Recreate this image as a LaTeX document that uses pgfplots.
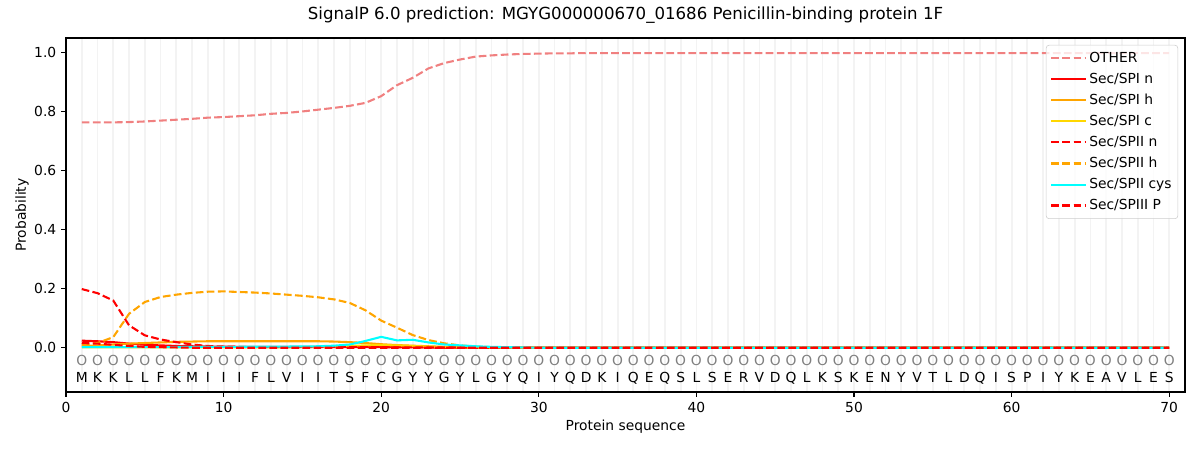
\documentclass[border=0pt]{standalone}
\usepackage{pgfplots}
\pgfplotsset{compat=1.18}
\usepackage{pgfplotstable}
\usepackage{fontspec}
\setmainfont{DejaVu Sans}
\definecolor{lightcoral}{HTML}{F08080}
\definecolor{mplorange}{HTML}{FFA500}
\definecolor{mplgold}{HTML}{FFD700}
\definecolor{mplcyan}{HTML}{00FFFF}
\definecolor{mplred}{HTML}{FF0000}
\definecolor{gridgray}{HTML}{F3F3F3}
\definecolor{circgray}{HTML}{808080}

\pgfplotstableread{
x yo yl l
1 -0.061 -0.118 M
2 -0.061 -0.118 K
3 -0.061 -0.118 K
4 -0.061 -0.118 L
5 -0.061 -0.118 L
6 -0.061 -0.118 F
7 -0.061 -0.118 K
8 -0.061 -0.118 M
9 -0.061 -0.118 I
10 -0.061 -0.118 I
11 -0.061 -0.118 I
12 -0.061 -0.118 F
13 -0.061 -0.118 L
14 -0.061 -0.118 V
15 -0.061 -0.118 I
16 -0.061 -0.118 I
17 -0.061 -0.118 T
18 -0.061 -0.118 S
19 -0.061 -0.118 F
20 -0.061 -0.118 C
21 -0.061 -0.118 G
22 -0.061 -0.118 Y
23 -0.061 -0.118 Y
24 -0.061 -0.118 G
25 -0.061 -0.118 Y
26 -0.061 -0.118 L
27 -0.061 -0.118 G
28 -0.061 -0.118 Y
29 -0.061 -0.118 Q
30 -0.061 -0.118 I
31 -0.061 -0.118 Y
32 -0.061 -0.118 Q
33 -0.061 -0.118 D
34 -0.061 -0.118 K
35 -0.061 -0.118 I
36 -0.061 -0.118 Q
37 -0.061 -0.118 E
38 -0.061 -0.118 Q
39 -0.061 -0.118 S
40 -0.061 -0.118 L
41 -0.061 -0.118 S
42 -0.061 -0.118 E
43 -0.061 -0.118 R
44 -0.061 -0.118 V
45 -0.061 -0.118 D
46 -0.061 -0.118 Q
47 -0.061 -0.118 L
48 -0.061 -0.118 K
49 -0.061 -0.118 S
50 -0.061 -0.118 K
51 -0.061 -0.118 E
52 -0.061 -0.118 N
53 -0.061 -0.118 Y
54 -0.061 -0.118 V
55 -0.061 -0.118 T
56 -0.061 -0.118 L
57 -0.061 -0.118 D
58 -0.061 -0.118 Q
59 -0.061 -0.118 I
60 -0.061 -0.118 S
61 -0.061 -0.118 P
62 -0.061 -0.118 I
63 -0.061 -0.118 Y
64 -0.061 -0.118 K
65 -0.061 -0.118 E
66 -0.061 -0.118 A
67 -0.061 -0.118 V
68 -0.061 -0.118 L
69 -0.061 -0.118 E
70 -0.061 -0.118 S
}\seqtable

\begin{document}
\begin{tikzpicture}
\path[use as bounding box] (-47.52bp,-41.76bp) rectangle (816.48bp,282.24bp);
\begin{axis}[
  at={(0,0)}, anchor=south west,
  scale only axis, width=805.68bp, height=254.88bp,
  xmin=0, xmax=71, ymin=-0.15, ymax=1.05,
  xtick={0,10,...,70},
  ytick={0,0.2,0.4,0.6,0.8,1.0},
  minor xtick={1,2,...,70},
  xminorgrids=true,
  minor grid style={color=gridgray, line width=1.3bp},
  minor tick length=0pt,
  tick align=outside, tick pos=left,
  major tick length=3.5bp,
  every tick/.style={black, line width=0.8bp},
  axis line style={line width=0.8bp},
  /pgf/number format/assume math mode=true,
  ticklabel style={font=\fontsize{10}{12}\selectfont},
  yticklabel style={/pgf/number format/.cd, fixed, fixed zerofill, precision=1},
  title={SignalP 6.0 prediction: MGYG000000670\_01686 Penicillin-binding protein 1F},
  title style={at={(axis description cs:0.5,1.0424)}, anchor=center, font=\fontsize{12}{14}\selectfont},
  xlabel={Protein sequence},
  xlabel style={at={(axis description cs:0.5,-0.0989)}, anchor=center, font=\fontsize{10}{12}\selectfont},
  ylabel={Probability},
  ylabel style={at={(axis description cs:-0.0393,0.5)}, anchor=center, font=\fontsize{10}{12}\selectfont},
  legend cell align=left,
  legend style={at={(axis description cs:1,1)}, anchor=north east, xshift=-5bp, yshift=-5bp,
    draw=black!20, rounded corners=2bp, fill=white, fill opacity=0.8, text opacity=1,
    font=\fontsize{10}{12}\selectfont, row sep=3.2bp, inner xsep=3bp, inner ysep=3.5bp,
    nodes={inner sep=1.5bp}},
  legend image code/.code={\path (0bp,0bp) -- (25bp,0bp); \draw[#1] (0bp,0bp) -- (20bp,0bp);},
]
\addplot[lightcoral, line width=1.5bp, dash pattern=on 5.55bp off 2.4bp] coordinates {
(1,0.764)(2,0.764)(3,0.764)(4,0.765)(5,0.767)(6,0.770)(7,0.773)(8,0.776)(9,0.780)(10,0.782)
(11,0.785)(12,0.788)(13,0.793)(14,0.796)(15,0.801)(16,0.807)(17,0.813)(18,0.820)(19,0.830)(20,0.853)
(21,0.890)(22,0.915)(23,0.947)(24,0.965)(25,0.977)(26,0.987)(27,0.991)(28,0.994)(29,0.996)(30,0.997)
(31,0.998)(32,0.998)(33,0.999)(34,0.999)(35,0.999)(40,0.999)(50,0.999)(60,0.999)(70,0.999)};
\addlegendentry{OTHER}
\addplot[mplred, line width=1.5bp] coordinates {
(1,0.024)(2,0.022)(3,0.019)(4,0.014)(5,0.010)(6,0.008)(7,0.006)(8,0.005)(9,0.004)(10,0.004)
(11,0.003)(15,0.003)(20,0.003)(21,0.002)(22,0.002)(23,0.001)(24,0)(70,0)};
\addlegendentry{Sec/SPI n}
\addplot[mplorange, line width=1.5bp] coordinates {
(1,0.006)(2,0.008)(3,0.011)(4,0.014)(5,0.016)(6,0.018)(7,0.020)(8,0.021)(9,0.022)(10,0.022)
(11,0.022)(12,0.022)(13,0.022)(14,0.022)(15,0.022)(16,0.022)(17,0.021)(18,0.019)(19,0.016)(20,0.012)
(21,0.009)(22,0.007)(23,0.005)(24,0.003)(25,0.002)(26,0.001)(27,0)(70,0)};
\addlegendentry{Sec/SPI h}
\addplot[mplgold, line width=1.5bp] coordinates {
(1,0.001)(14,0.001)(15,0.002)(16,0.003)(17,0.004)(18,0.006)(19,0.008)(20,0.009)
(21,0.008)(22,0.006)(23,0.004)(24,0.002)(25,0.001)(26,0)(70,0)};
\addlegendentry{Sec/SPI c}
\addplot[mplred, line width=1.5bp, dash pattern=on 5.55bp off 2.4bp] coordinates {
(1,0.199)(2,0.185)(3,0.160)(4,0.076)(5,0.042)(6,0.028)(7,0.019)(8,0.011)(9,0.006)(10,0.004)
(11,0.003)(12,0.002)(20,0.002)(21,0.001)(25,0.001)(26,0)(70,0)};
\addlegendentry{Sec/SPII n}
\addplot[mplorange, line width=1.5bp, dash pattern=on 5.55bp off 2.4bp] coordinates {
(1,0.011)(2,0.016)(3,0.036)(4,0.115)(5,0.155)(6,0.172)(7,0.180)(8,0.186)(9,0.190)(10,0.191)
(11,0.189)(12,0.187)(13,0.184)(14,0.180)(15,0.176)(16,0.171)(17,0.164)(18,0.152)(19,0.127)(20,0.092)
(21,0.068)(22,0.043)(23,0.026)(24,0.015)(25,0.008)(26,0.004)(27,0.002)(28,0.001)(29,0)(70,0)};
\addlegendentry{Sec/SPII h}
\addplot[mplcyan, line width=1.5bp] coordinates {
(1,0.002)(5,0.002)(10,0.003)(14,0.004)(16,0.005)(17,0.007)(18,0.011)(19,0.023)(20,0.037)
(21,0.025)(22,0.027)(23,0.018)(24,0.011)(25,0.008)(26,0.005)(27,0.003)(28,0.002)(29,0.001)(30,0)(70,0)};
\addlegendentry{Sec/SPII cys}
\addplot[mplred, line width=1.5bp, dash pattern=on 5.55bp off 2.4bp] coordinates {
(1,0.016)(2,0.014)(3,0.010)(4,0.006)(5,0.003)(6,0.002)(7,0.001)(8,0)(70,0)};
\addlegendentry{Sec/SPIII P}
\addplot[draw=none, mark=none, nodes near coords={O},
  every node near coord/.append style={anchor=base, inner sep=0pt, text=circgray, font=\fontsize{10}{12}\selectfont}]
  table[x=x, y=yo] {\seqtable};
\addplot[draw=none, mark=none, point meta=explicit symbolic, nodes near coords={\pgfplotspointmeta},
  every node near coord/.append style={anchor=base, inner sep=0pt, text=black, font=\fontsize{10}{12}\selectfont}]
  table[x=x, y=yl, meta=l] {\seqtable};
\end{axis}
\end{tikzpicture}
\end{document}
